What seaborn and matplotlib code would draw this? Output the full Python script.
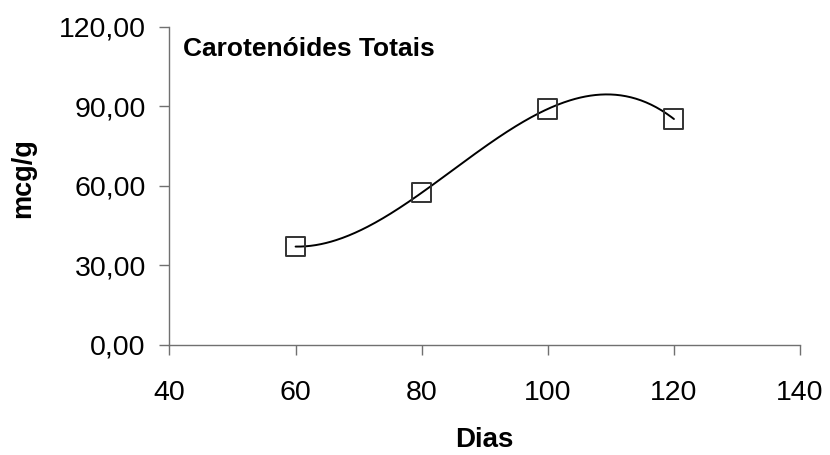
import numpy as np
import pandas as pd
import seaborn as sns
import matplotlib
matplotlib.use("Agg")
import matplotlib.pyplot as plt
from matplotlib.ticker import FuncFormatter

# Total carotenoid content over time
dias = [60, 80, 100, 120]
carotenoides = [37.1, 57.4, 89.0, 85.2]

titulo = "Carotenóides Totais"
rotulo_x = "Dias"
rotulo_y = "mcg/g"
x_ticks = [40, 60, 80, 100, 120, 140]
y_ticks = [0, 30, 60, 90, 120]

sns.set_theme(style="white")
plt.rcParams["font.family"] = ["Liberation Sans", "DejaVu Sans"]
plt.rcParams["text.color"] = "black"
plt.rcParams["axes.labelcolor"] = "black"

df = pd.DataFrame({"Dias": dias, "mcg/g": carotenoides})

# third-order polynomial trend through the measurements
coef = np.polyfit(df["Dias"], df["mcg/g"], 3)
xs = np.linspace(min(dias), max(dias), 300)
trend = pd.DataFrame({"Dias": xs, "mcg/g": np.polyval(coef, xs)})

fig = plt.figure(figsize=(8.3, 4.55), dpi=100)
ax = fig.add_axes([0.2042, 0.2418, 0.7597, 0.6995])

sns.lineplot(data=trend, x="Dias", y="mcg/g", ax=ax, color="black",
             linewidth=1.4, zorder=2)
sns.scatterplot(data=df, x="Dias", y="mcg/g", ax=ax, marker="s", s=190,
                facecolor="none", edgecolor="#333333", linewidth=1.4, zorder=3)

ax.set_xlim(40, 140)
ax.set_ylim(0, 120)
ax.set_xticks(x_ticks)
ax.set_yticks(y_ticks)
ax.yaxis.set_major_formatter(FuncFormatter(lambda v, p: f"{v:.2f}".replace(".", ",")))

for side in ["top", "right"]:
    ax.spines[side].set_visible(False)
for side in ["left", "bottom"]:
    ax.spines[side].set_color("#707070")
    ax.spines[side].set_linewidth(1.0)

ax.tick_params(axis="both", which="major", direction="out", length=7,
               width=1.0, color="#707070", labelsize=20.5, labelcolor="black",
               left=True, bottom=True)
ax.tick_params(axis="x", pad=18)
ax.tick_params(axis="y", pad=10)

ax.set_xlabel(rotulo_x, fontsize=20, fontweight="bold")
ax.set_ylabel(rotulo_y, fontsize=19.5, fontweight="bold")
ax.xaxis.set_label_coords(0.5, -0.258)
ax.yaxis.set_label_coords(-0.212, 0.523)

ax.text(0.021, 0.908, titulo, transform=ax.transAxes, fontsize=19,
        fontweight="bold", ha="left", va="baseline")

fig.savefig("out.png", dpi=100)
